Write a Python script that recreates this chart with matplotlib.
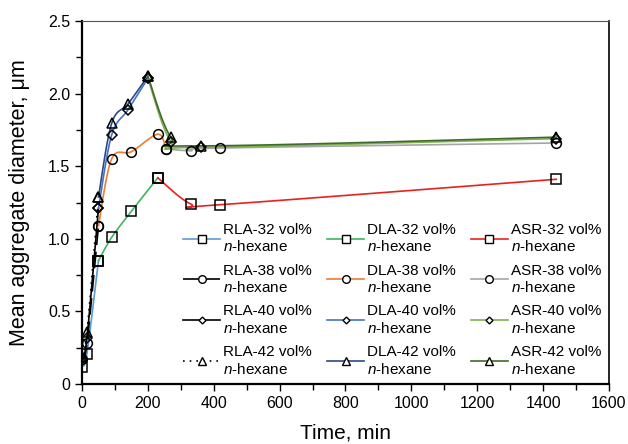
import numpy as np
import matplotlib
matplotlib.use('Agg')
import matplotlib.pyplot as plt
from matplotlib.ticker import MultipleLocator, FuncFormatter

plt.rcParams['font.family'] = ['Liberation Sans', 'DejaVu Sans']
plt.rcParams['mathtext.fontset'] = 'custom'
plt.rcParams['mathtext.it'] = 'Liberation Sans:italic'
plt.rcParams['mathtext.rm'] = 'Liberation Sans'

# data: time (min) and mean aggregate diameter (um), split by regime
t32 = [0, 15, 50, 90, 150, 230, 330, 420, 1440]
d32 = [0.12, 0.21, 0.85, 1.01, 1.19, 1.42, 1.24, 1.235, 1.41]
t38 = [0, 15, 50, 90, 150, 230, 255, 330, 420, 1440]
d38 = [0.17, 0.28, 1.09, 1.55, 1.60, 1.72, 1.62, 1.607, 1.625, 1.66]
t40 = [0, 15, 50, 90, 140, 200, 270, 360, 1440]
d40 = [0.17, 0.32, 1.21, 1.715, 1.89, 2.105, 1.67, 1.63, 1.69]
t42 = [0, 15, 50, 90, 140, 200, 270, 360, 1440]
d42 = [0.19, 0.36, 1.29, 1.795, 1.93, 2.12, 1.70, 1.64, 1.70]

# index ranges of each regime (RLA, DLA, ASR)
split32 = [(0, 3), (2, 6), (5, 9)]
split38 = [(0, 3), (2, 7), (6, 10)]
split40 = [(0, 3), (2, 6), (5, 9)]
split42 = [(0, 3), (2, 6), (5, 9)]

colors32 = ['#5B9BD5', '#3DB560', '#E8221E']
colors38 = ['black', '#ED7D31', '#A5A5A5']
colors40 = ['black', '#4472C4', '#7FAF4F']
colors42 = ['black', '#2B4A80', '#3E6B2A']
styles = {'32': '-', '38': (0, (10, 4)), '40': '-', '42': (0, (1, 3))}
markers = {'32': 's', '38': 'o', '40': 'D', '42': '^'}
msizes = {'32': 7, '38': 7, '40': 5, '42': 7}
regimes = ['RLA', 'DLA', 'ASR']


def smooth(x, y, n=30):
    # Excel-like smoothed line (Catmull-Rom through Bezier)
    x = np.asarray(x, float)
    y = np.asarray(y, float)
    px = np.concatenate([[x[0]], x, [x[-1]]])
    py = np.concatenate([[y[0]], y, [y[-1]]])
    xs, ys = [], []
    s = np.linspace(0, 1, n)
    for i in range(1, len(px) - 2):
        p0 = np.array([px[i], py[i]])
        p3 = np.array([px[i + 1], py[i + 1]])
        p1 = p0 + (np.array([px[i + 1], py[i + 1]]) - np.array([px[i - 1], py[i - 1]])) / 6
        p2 = p3 - (np.array([px[i + 2], py[i + 2]]) - np.array([px[i], py[i]])) / 6
        b = ((1 - s) ** 3)[:, None] * p0 + (3 * (1 - s) ** 2 * s)[:, None] * p1 \
            + (3 * (1 - s) * s ** 2)[:, None] * p2 + (s ** 3)[:, None] * p3
        xs.extend(b[:, 0])
        ys.extend(b[:, 1])
    return xs, ys


fig = plt.figure(figsize=(6.28, 4.44), dpi=100)
ax = fig.add_axes([0.1306, 0.1351, 0.8391, 0.8176])

series = [('32', t32, d32, split32, colors32),
          ('38', t38, d38, split38, colors38),
          ('40', t40, d40, split40, colors40),
          ('42', t42, d42, split42, colors42)]

handles = {}
for key, t, d, split, cols in series:
    for k, (a, b) in enumerate(split):
        ls = styles[key] if k == 0 else '-'
        xs, ys = smooth(t[a:b], d[a:b])
        ax.plot(xs, ys, color=cols[k], lw=1.2, ls=ls, zorder=2)
        ax.plot(t[a:b], d[a:b], ls='none', marker=markers[key], ms=msizes[key],
                mfc='none', mec='black', mew=1.1, zorder=3)
        h, = ax.plot([], [], color=cols[k], lw=1.2, ls=ls, marker=markers[key],
                     ms=msizes[key] - 1.5, mfc='white', mec='black', mew=1.0)
        handles[(regimes[k], key)] = h

leg_h, leg_l = [], []
for r in regimes:
    for key in ['32', '38', '40', '42']:
        leg_h.append(handles[(r, key)])
        leg_l.append(f'{r}-{key} vol%\n$\\mathit{{n}}$-hexane')

ax.legend(leg_h, leg_l, ncol=3, loc='lower right', bbox_to_anchor=(0.985, 0.02),
          frameon=False, fontsize=11, handlelength=2.4, handletextpad=0.2,
          columnspacing=1.0, labelspacing=0.62, borderpad=0, borderaxespad=0)

ax.set_xlim(0, 1600)
ax.set_ylim(0, 2.5)
ax.xaxis.set_major_locator(MultipleLocator(200))
ax.xaxis.set_minor_locator(MultipleLocator(100))
ax.yaxis.set_major_locator(MultipleLocator(0.5))
ax.yaxis.set_minor_locator(MultipleLocator(0.25))
ax.yaxis.set_major_formatter(FuncFormatter(lambda v, p: '0' if v == 0 else f'{v:.1f}'))
ax.tick_params(which='both', direction='out', labelsize=11.5, width=1.0)
ax.tick_params(which='major', length=5)
ax.tick_params(which='minor', length=4)
for s in ['left', 'bottom']:
    ax.spines[s].set_linewidth(1.6)
ax.spines['top'].set_color('#555555')
ax.spines['right'].set_linewidth(1.2)

ax.set_xlabel('Time, min', fontsize=15, labelpad=9)
ax.set_ylabel('Mean aggregate diameter, μm', fontsize=15.5, labelpad=13)

fig.savefig('out.png', dpi=100)
